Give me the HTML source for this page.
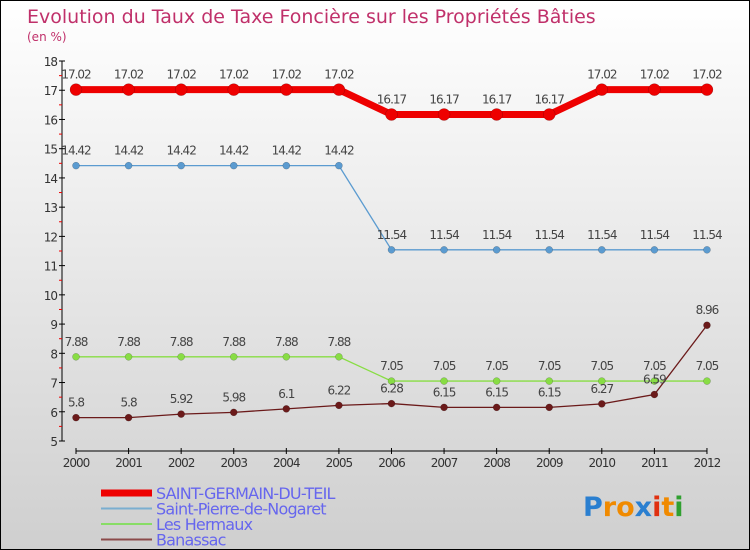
<!DOCTYPE html>
<html><head><meta charset="utf-8"><style>
body{margin:0}
#c{width:750px;height:550px;position:relative;overflow:hidden;background:linear-gradient(#ffffff,#cfcfcf);border:1px solid #000;box-sizing:border-box;font-family:"DejaVu Sans","Liberation Sans",sans-serif}
</style></head><body>
<div id="c">
<svg id="s" width="750" height="550"></svg>
</div>
<script>
const years=["2000","2001","2002","2003","2004","2005","2006","2007","2008","2009","2010","2011","2012"];
const sgdt=[17.02,17.02,17.02,17.02,17.02,17.02,16.17,16.17,16.17,16.17,17.02,17.02,17.02];
const spn=[14.42,14.42,14.42,14.42,14.42,14.42,11.54,11.54,11.54,11.54,11.54,11.54,11.54];
const herm=[7.88,7.88,7.88,7.88,7.88,7.88,7.05,7.05,7.05,7.05,7.05,7.05,7.05];
const bana=[5.8,5.8,5.92,5.98,6.1,6.22,6.28,6.15,6.15,6.15,6.27,6.59,8.96];
const yTicks=[5,6,7,8,9,10,11,12,13,14,15,16,17,18];
const NS="http://www.w3.org/2000/svg";const s=document.getElementById('s');
const X=i=>75+i*52.58, Y=v=>440-(v-5)*29.23;
function el(t,a,p){const e=document.createElementNS(NS,t);for(const k in a)e.setAttribute(k,a[k]);(p||s).appendChild(e);return e;}
function tx(x,y,str,a){const e=el('text',Object.assign({x:x,y:y},a));e.textContent=str;return e;}
let t=tx(26,22,"Evolution du Taux de Taxe Foncière sur les Propriétés Bâties",{'font-size':19,fill:'#c0306a'});

t=tx(26,40,"(en %)",{'font-size':12,fill:'#c0306a'});

let a=el('line',{x1:61,y1:60,x2:61,y2:440,stroke:'#000'});

yTicks.forEach(v=>{el('line',{x1:58,x2:64,y1:Y(v),y2:Y(v),stroke:'#000'});
 if(v<18)el('line',{x1:58,x2:61,y1:Y(v+0.5),y2:Y(v+0.5),stroke:'#e00'});
 const l=tx(56,Y(v)+5,String(v),{'font-size':12,fill:'#333','text-anchor':'end','letter-spacing':'-1'});
 });
a=el('line',{x1:X(0),y1:450,x2:X(12),y2:450,stroke:'#000'});

years.forEach((y,i)=>{el('line',{x1:X(i),x2:X(i),y1:447,y2:453,stroke:'#000'});
 const l=tx(X(i),466,y,{'font-size':12,fill:'#333','text-anchor':'middle','letter-spacing':'-1'});
 });
function series(d,col,w,r,name){
 const g=el('g',{});
 el('polyline',{points:d.map((v,i)=>X(i)+','+Y(v)).join(' '),fill:'none',stroke:col,'stroke-width':w},g);
 d.forEach((v,i)=>{const c=el('circle',{cx:X(i),cy:Y(v),r:r,fill:col,stroke:'rgba(0,0,0,0.3)','stroke-width':0.5},g);
  
  const l=tx(X(i),Y(v)-11,String(v),{'font-size':12,fill:'#444','text-anchor':'middle','letter-spacing':'-1'},g);
  });
}
series(spn,'#5b9bd0',1.3,3.5,'saint-pierre-series');
series(herm,'#88dd44',1.3,3.5,'les-hermaux-series');
series(bana,'#6b1a1a',1.3,3.5,'banassac-series');
series(sgdt,'#ee0000',7,6,'saint-germain-series');
const leg=[["SAINT-GERMAIN-DU-TEIL","#ee0000",7],["Saint-Pierre-de-Nogaret","#7aaed0",2],["Les Hermaux","#88dd66",2],["Banassac","#8b4a4a",2]];
leg.forEach((L,i)=>{const y=492+i*15.5;const g=el('g',{});
 
 el('line',{x1:100,x2:151,y1:y,y2:y,stroke:L[1],'stroke-width':L[2]},g);
 tx(155,y+6,L[0],{'font-size':16,fill:'#6666ee','letter-spacing':'-0.8'},g);});
const p=el('text',{x:582,y:515,'font-size':27,'font-family':'"DejaVu Sans",sans-serif','font-weight':'bold'});

[["P","#2a7fd0"],["ro","#f08a00"],["x","#2a7fd0"],["i","#e03010"],["t","#f08a00"],["i","#30a030"]].forEach(q=>{const sp=el('tspan',{fill:q[1]},p);sp.textContent=q[0];});
</script>
</body></html>
